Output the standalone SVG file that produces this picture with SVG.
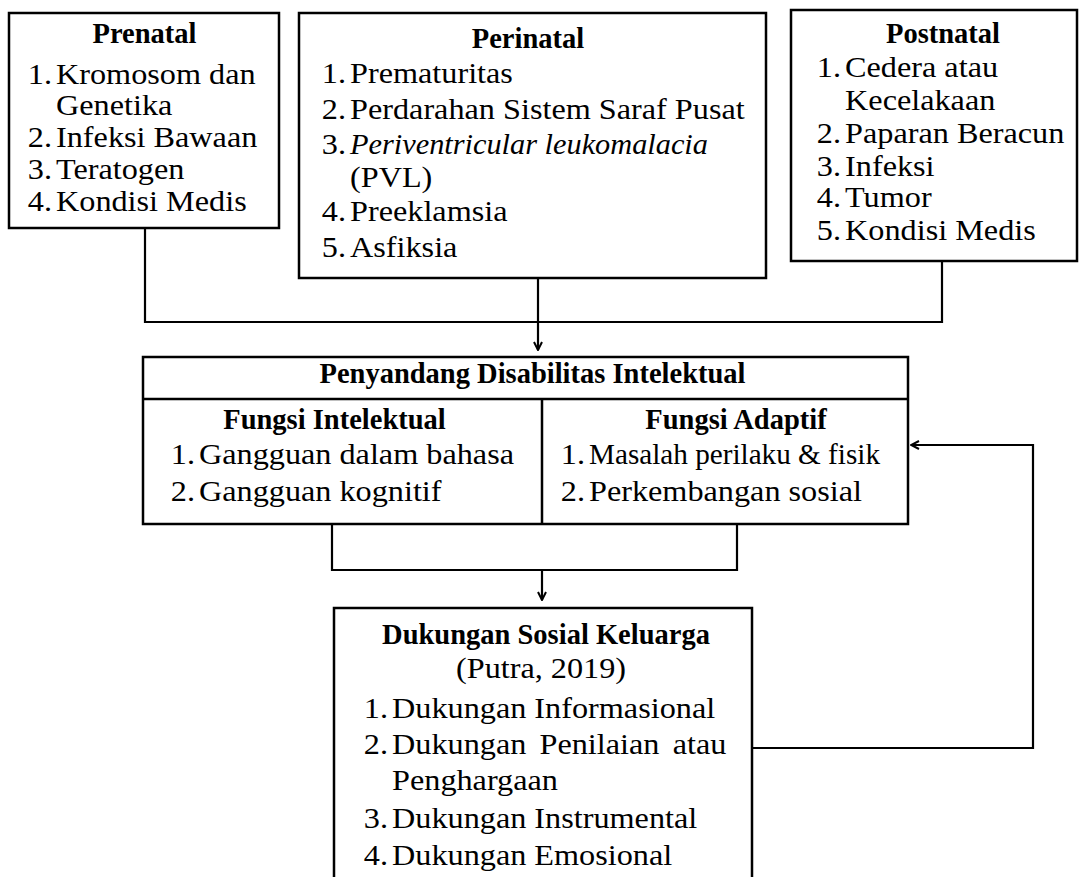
<svg xmlns="http://www.w3.org/2000/svg" width="1084" height="877" viewBox="0 0 1084 877">
<style>
.box{fill:#fff;stroke:#000;stroke-width:2.5}
.t{font-family:"Liberation Serif","Times New Roman",serif;font-size:30px;fill:#000}
.n{text-anchor:end}
.b{font-family:"Liberation Serif","Times New Roman",serif;font-size:28.5px;font-weight:bold;fill:#000;text-anchor:middle}
.c{text-anchor:middle}
.i{font-style:italic}
.ln{fill:none;stroke:#000;stroke-width:2.2}
</style>
<defs>
<marker id="arr" viewBox="0 0 10 10" refX="9" refY="5" markerWidth="10" markerHeight="10" markerUnits="userSpaceOnUse" orient="auto">
<path d="M1,1 L9,5 L1,9" fill="none" stroke="#000" stroke-width="2"/>
</marker>
</defs>
<rect width="1084" height="877" fill="#fff"/>

<g id="connectors">
<path class="ln" d="M145,228 V322 H942 V261"/>
<path class="ln" d="M538,278 V350" marker-end="url(#arr)"/>
<path class="ln" d="M332,524 V570 H737 V524"/>
<path class="ln" d="M542,570 V600" marker-end="url(#arr)"/>
<path class="ln" d="M752,748 H1033 V445 H911" marker-end="url(#arr)"/>
</g>

<g id="prenatal">
<rect class="box" x="9" y="13" width="270" height="215"/>
<text class="b" x="144.5" y="43">Prenatal</text>
<g transform="scale(1.075,1)" class="t">
<text class="n" x="48.4" y="84">1.</text><text x="52.1" y="84">Kromosom dan</text>
<text x="52.1" y="115">Genetika</text>
<text class="n" x="48.4" y="147">2.</text><text x="52.1" y="147">Infeksi Bawaan</text>
<text class="n" x="48.4" y="179">3.</text><text x="52.1" y="179">Teratogen</text>
<text class="n" x="48.4" y="211">4.</text><text x="52.1" y="211">Kondisi Medis</text>
</g>
</g>

<g id="perinatal">
<rect class="box" x="299" y="13" width="467" height="265"/>
<text class="b" x="528" y="48">Perinatal</text>
<g transform="scale(1.075,1)" class="t">
<text class="n" x="321.9" y="83">1.</text><text x="325.6" y="83">Prematuritas</text>
<text class="n" x="321.9" y="119">2.</text><text x="325.6" y="119">Perdarahan Sistem Saraf Pusat</text>
<text class="n" x="321.9" y="154">3.</text><text class="i" x="325.6" y="154" textLength="333" lengthAdjust="spacingAndGlyphs">Periventricular leukomalacia</text>
<text x="325.6" y="187">(PVL)</text>
<text class="n" x="321.9" y="221">4.</text><text x="325.6" y="221">Preeklamsia</text>
<text class="n" x="321.9" y="257">5.</text><text x="325.6" y="257">Asfiksia</text>
</g>
</g>

<g id="postnatal">
<rect class="box" x="791" y="10" width="286" height="251"/>
<text class="b" x="943" y="43">Postnatal</text>
<g transform="scale(1.075,1)" class="t">
<text class="n" x="782.3" y="77">1.</text><text x="786.1" y="77">Cedera atau</text>
<text x="786.1" y="110">Kecelakaan</text>
<text class="n" x="782.3" y="143">2.</text><text x="786.1" y="143">Paparan Beracun</text>
<text class="n" x="782.3" y="176">3.</text><text x="786.1" y="176">Infeksi</text>
<text class="n" x="782.3" y="207">4.</text><text x="786.1" y="207">Tumor</text>
<text class="n" x="782.3" y="240">5.</text><text x="786.1" y="240">Kondisi Medis</text>
</g>
</g>

<g id="disabilitas">
<rect class="box" x="143" y="357" width="765" height="167"/>
<path class="ln" d="M143,399 H908 M542,399 V524" style="stroke-width:2.5"/>
<text class="b" x="532.5" y="383">Penyandang Disabilitas Intelektual</text>
<g id="fungsi-intelektual">
<text class="b" x="334.5" y="429">Fungsi Intelektual</text>
<g transform="scale(1.075,1)" class="t">
<text class="n" x="181.4" y="464">1.</text><text x="185.1" y="464">Gangguan dalam bahasa</text>
<text class="n" x="181.4" y="501">2.</text><text x="185.1" y="501">Gangguan kognitif</text>
</g>
</g>
<g id="fungsi-adaptif">
<text class="b" x="736" y="429">Fungsi Adaptif</text>
<g transform="scale(1.075,1)" class="t">
<text class="n" x="544.2" y="464">1.</text><text x="547.9" y="464" textLength="270.7" lengthAdjust="spacingAndGlyphs">Masalah perilaku &amp; fisik</text>
<text class="n" x="544.2" y="501">2.</text><text x="547.9" y="501">Perkembangan sosial</text>
</g>
</g>
</g>

<g id="dukungan">
<rect class="box" x="334" y="608" width="418" height="290"/>
<text class="b" x="546" y="644">Dukungan Sosial Keluarga</text>
<g transform="scale(1.075,1)" class="t">
<text class="c" x="503.3" y="678">(Putra, 2019)</text>
<text class="n" x="360.9" y="718">1.</text><text x="364.7" y="718">Dukungan Informasional</text>
<text class="n" x="360.9" y="754">2.</text><text x="364.7" y="754" word-spacing="4.8">Dukungan Penilaian atau</text>
<text x="364.7" y="790">Penghargaan</text>
<text class="n" x="360.9" y="828">3.</text><text x="364.7" y="828">Dukungan Instrumental</text>
<text class="n" x="360.9" y="865">4.</text><text x="364.7" y="865">Dukungan Emosional</text>
</g>
</g>
</svg>
